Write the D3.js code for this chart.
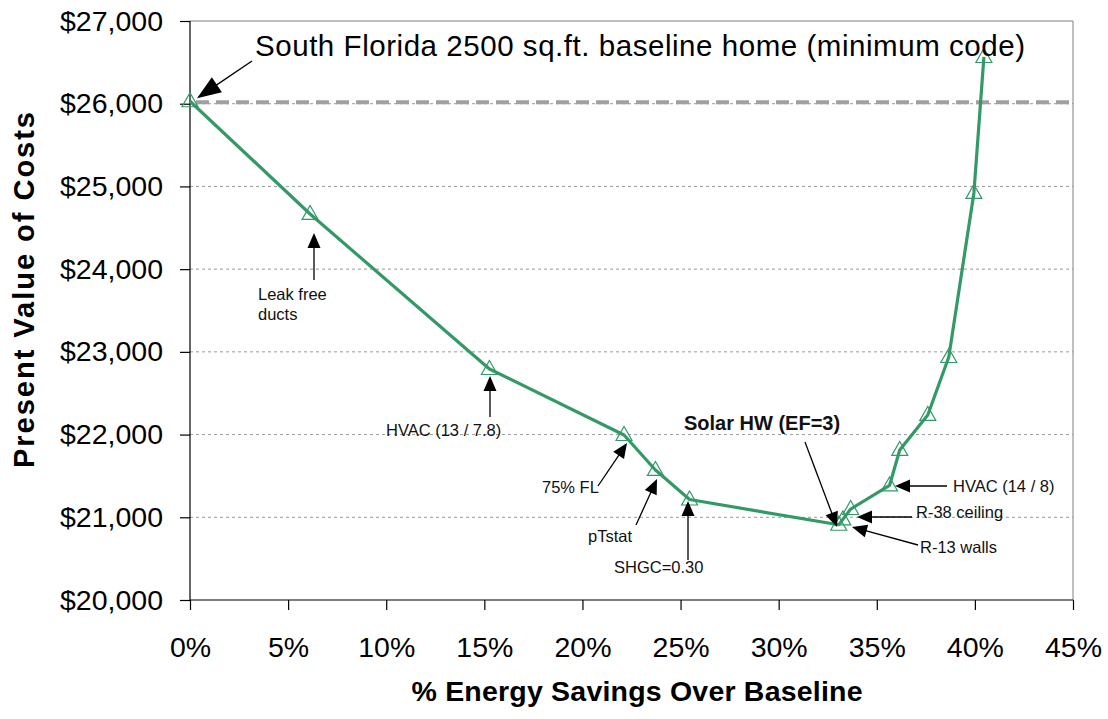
<!DOCTYPE html>
<html><head><meta charset="utf-8">
<script src="https://cdn.jsdelivr.net/npm/d3@7"></script>
<style>body{margin:0;background:#fff}svg{display:block;font-family:"Liberation Sans",Arial,sans-serif}</style>
</head><body><svg id="c" width="1108" height="719"></svg>
<script>
// ---- data ----
const savings = [0, 0.0612, 0.1526, 0.2212, 0.2372, 0.2546, 0.3306, 0.3327, 0.3367, 0.3565, 0.3617, 0.3760, 0.3867, 0.3995, 0.4046];
const costs   = [26030, 24667, 22793, 21995, 21572, 21215, 20910, 20975, 21100, 21385, 21814, 22237, 22938, 24921, 26565];
const yTicks = [20000, 21000, 22000, 23000, 24000, 25000, 26000, 27000];
const xTicks = [0, 0.05, 0.10, 0.15, 0.20, 0.25, 0.30, 0.35, 0.40, 0.45];
const baselineCost = 26000;
const titleText = "South Florida 2500 sq.ft. baseline home (minimum code)";
const annoLabels = [["Leak free", "ducts"], ["HVAC (13 / 7.8)"], ["75% FL"], ["pTstat"], ["SHGC=0.30"], ["Solar HW (EF=3)"], ["HVAC (14 / 8)"], ["R-38 ceiling"], ["R-13 walls"]];

// ---- layout ----
const L = {left:190, right:1073, top:21, bottom:600};
const annoLayout = [
  {tx:258, ty:300, from:[314,280], tip:[314,233]},
  {tx:386, ty:436, from:[490,417], tip:[490,376]},
  {tx:542, ty:493, from:[598,486], tip:[627,443]},
  {tx:588, ty:542, from:[636,525], tip:[657,479]},
  {tx:614, ty:573, from:[688,560], tip:[688,501]},
  {tx:684, ty:430, from:[805,442], tip:[837,527], bold:true},
  {tx:953, ty:492, from:[947,486], tip:[895,486]},
  {tx:916, ty:518, from:[912,517], tip:[857,517]},
  {tx:920, ty:553, from:[918,545], tip:[852,527]}
];
const green = "#339966";

const svg = d3.select("#c");
const x = d3.scaleLinear().domain([0, 0.45]).range([L.left, L.right]);
const y = d3.scaleLinear().domain([20000, 27000]).range([L.bottom, L.top]);

// gridlines
svg.append("g").selectAll("line").data(yTicks.filter(t => t > 20000 && t < 27000)).join("line")
  .attr("x1", L.left).attr("x2", L.right).attr("y1", d => y(d)).attr("y2", d => y(d))
  .attr("stroke", "#999").attr("stroke-width", 1).attr("stroke-dasharray", "3,3");
// plot border (top/right)
svg.append("path").attr("d", `M${L.left},${y(27000)}H${L.right}V${L.bottom}`)
  .attr("fill", "none").attr("stroke", "#808080").attr("stroke-width", 1);

// baseline thick dashed
svg.append("line").attr("x1", x(0) + 6).attr("x2", L.right).attr("y1", y(baselineCost) - 1.5).attr("y2", y(baselineCost) - 1.5)
  .attr("stroke", "#a0a0a0").attr("stroke-width", 4).attr("stroke-dasharray", "13,7");

// axes
const yAxis = d3.axisLeft(y).tickValues(yTicks).tickSize(10).tickPadding(17)
  .tickFormat(d => "$" + d3.format(",")(d));
const gy = svg.append("g").attr("transform", `translate(${L.left},0)`).call(yAxis);
const xAxis = d3.axisBottom(x).tickValues(xTicks).tickSize(10).tickPadding(27)
  .tickFormat(d3.format(".0%"));
const gx = svg.append("g").attr("transform", `translate(0,${L.bottom})`).call(xAxis);
[gy, gx].forEach(g => {
  g.select(".domain").attr("stroke", "#000").attr("stroke-width", 1.2);
  g.selectAll(".tick line").attr("stroke", "#000").attr("stroke-width", 1.2);
  g.selectAll("text").attr("font-size", 28.5).attr("fill", "#000").attr("font-family", "Liberation Sans, Arial");
});
gy.select(".domain").attr("d", `M0,${L.top}V${L.bottom}`);
gx.select(".domain").attr("d", `M${L.left},0H${L.right}`);

// axis titles
svg.append("text").attr("x", 637).attr("y", 701).attr("text-anchor", "middle")
  .attr("font-size", 28.5).attr("font-weight", "bold").attr("textLength", 451).attr("lengthAdjust", "spacing")
  .text("% Energy Savings Over Baseline");
svg.append("text").attr("transform", "translate(34,290) rotate(-90)").attr("text-anchor", "middle")
  .attr("font-size", 29).attr("font-weight", "bold").attr("textLength", 356).attr("lengthAdjust", "spacing")
  .text("Present Value of Costs");

// series line
const pts = savings.map((s, i) => [s, costs[i]]);
svg.append("path").datum(pts)
  .attr("d", d3.line().x(d => x(d[0])).y(d => y(d[1])))
  .attr("fill", "none").attr("stroke", green).attr("stroke-width", 3.2).attr("stroke-linejoin", "round");
// markers
svg.append("g").selectAll("path").data(pts).join("path")
  .attr("transform", d => `translate(${x(d[0])},${y(d[1])})`)
  .attr("d", "M0,-8.5L8,5.5L-8,5.5Z")
  .attr("fill", "none").attr("stroke", green).attr("stroke-width", 1.2);

// arrows helper
function arrow(from, tip, len, hw) {
  const dx = tip[0] - from[0], dy = tip[1] - from[1];
  const d = Math.hypot(dx, dy), ux = dx / d, uy = dy / d;
  const bx = tip[0] - ux * len, by = tip[1] - uy * len;
  svg.append("line").attr("x1", from[0]).attr("y1", from[1]).attr("x2", bx + ux * 2).attr("y2", by + uy * 2)
    .attr("stroke", "#000").attr("stroke-width", 1.3);
  svg.append("path").attr("d", `M${tip[0]},${tip[1]}L${bx - uy * hw},${by + ux * hw}L${bx + uy * hw},${by - ux * hw}Z`)
    .attr("fill", "#000");
}

// title annotation
svg.append("text").attr("x", 255).attr("y", 56).attr("font-size", 29.5)
  .attr("textLength", 770).attr("lengthAdjust", "spacing").text(titleText);
arrow([252, 61], [x(savings[0]) + 7, y(costs[0]) - 3], 24, 9);

// point annotations
annoLabels.forEach((lines, i) => {
  const a = annoLayout[i];
  const t = svg.append("text").attr("x", a.tx).attr("y", a.ty)
    .attr("font-size", a.bold ? 20 : 16.5).attr("font-weight", a.bold ? "bold" : "normal").attr("fill", "#111");
  lines.forEach((ln, k) => t.append("tspan").attr("x", a.tx).attr("dy", k === 0 ? 0 : 20).text(ln));
  arrow(a.from, a.tip, 15, 6.5);
});
</script>
</body></html>
